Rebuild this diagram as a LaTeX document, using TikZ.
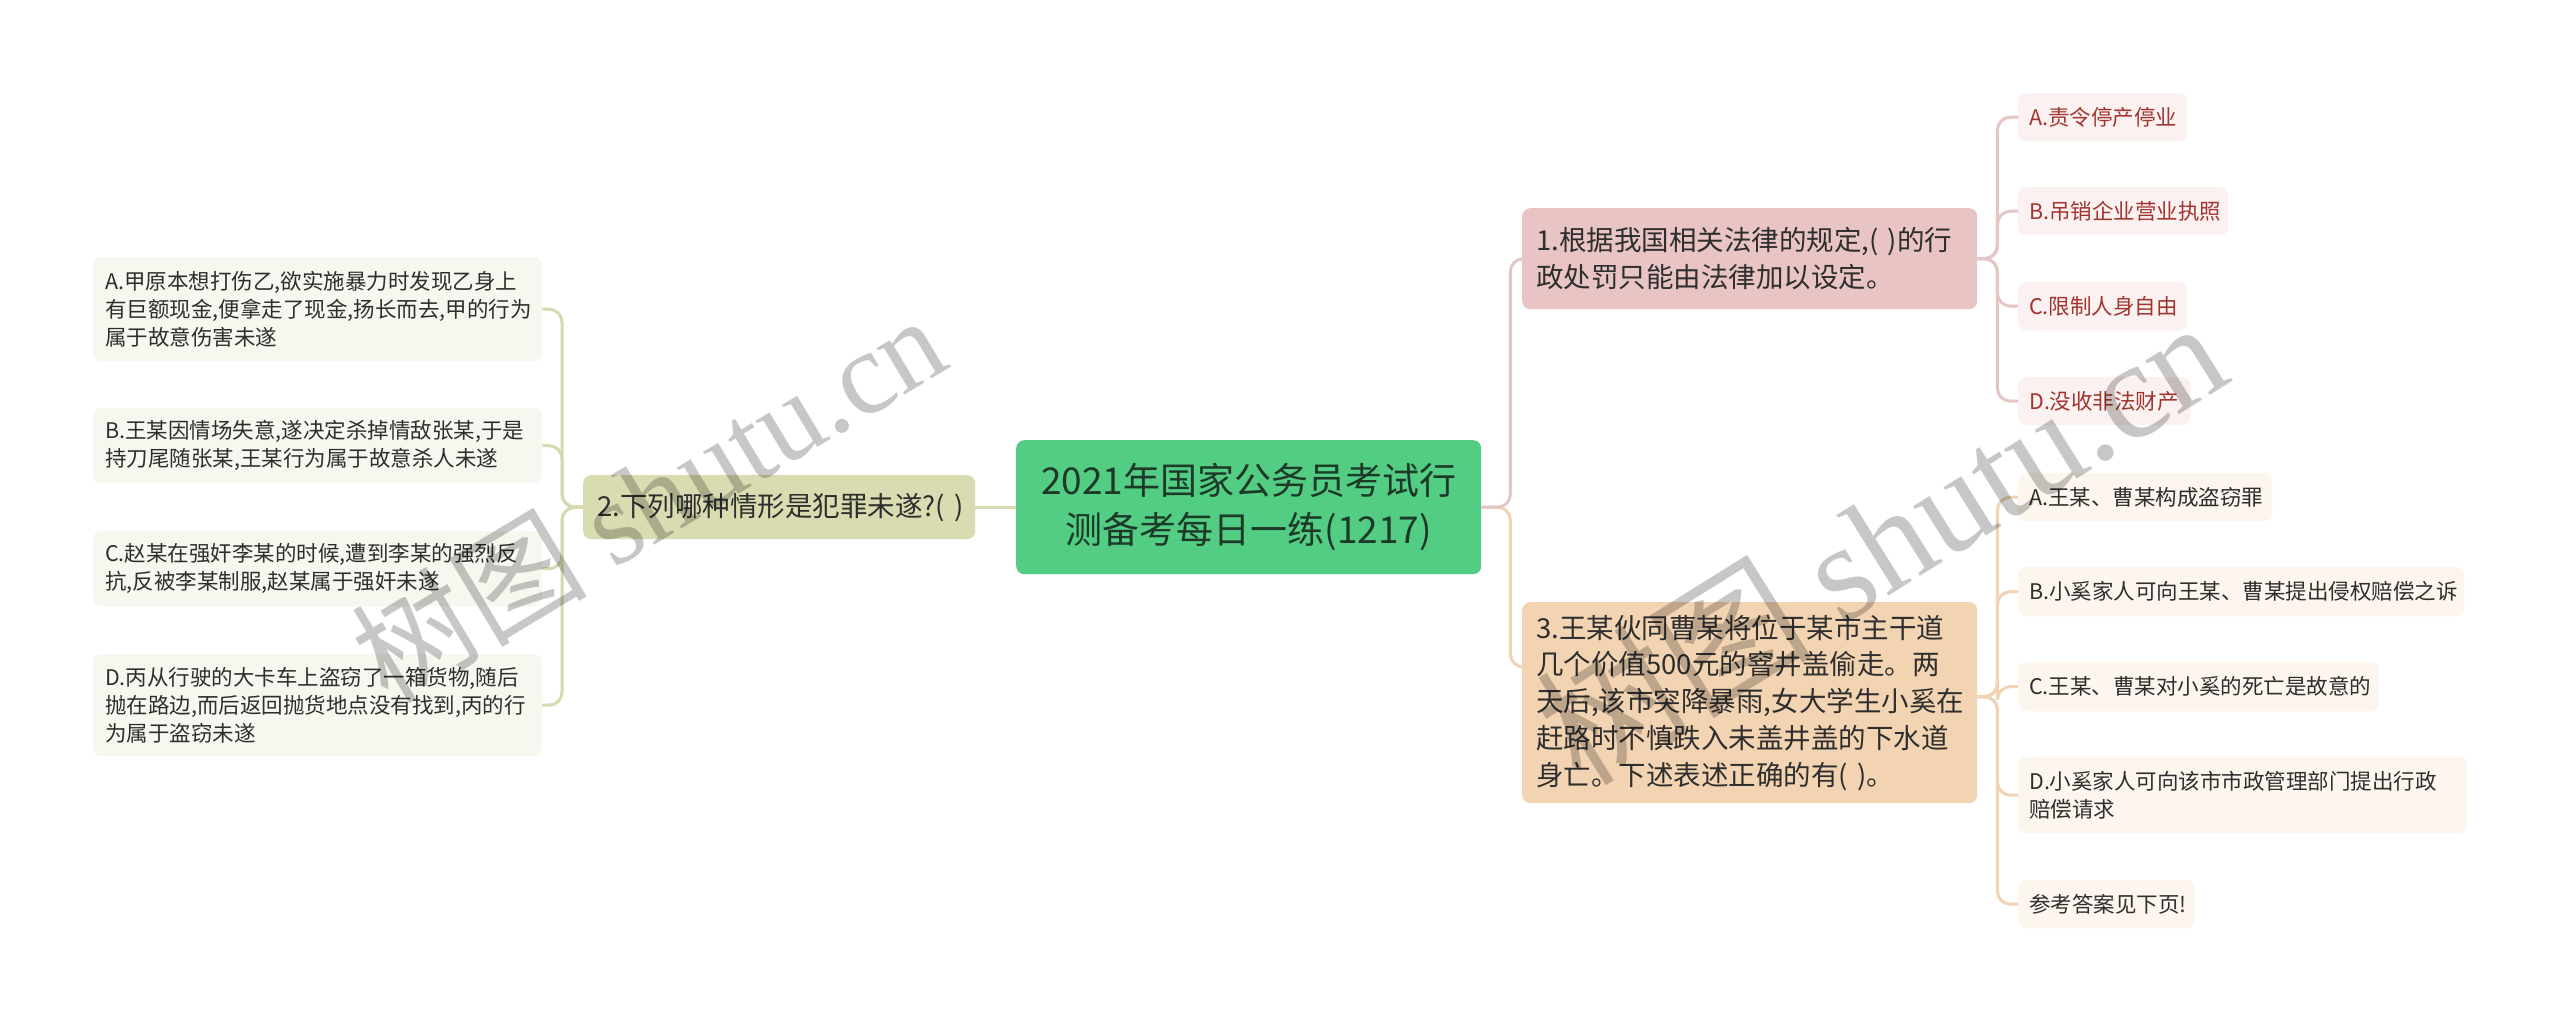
\documentclass[tikz,border=0pt]{standalone}
\usepackage{fontspec}
\setmainfont{Noto Sans CJK SC}
\newfontfamily\wmfont{Liberation Serif}
\definecolor{cfill}{HTML}{53CC84}
\definecolor{ctext}{HTML}{1D3A29}
\definecolor{pfill}{HTML}{E8C4C4}
\definecolor{pchild}{HTML}{FAF1F0}
\definecolor{ptext}{HTML}{A1342E}
\definecolor{pline}{HTML}{E4C6C5}
\definecolor{ofill}{HTML}{F2D4B2}
\definecolor{ochild}{HTML}{FDF6EE}
\definecolor{oline}{HTML}{F0D4B5}
\definecolor{gfill}{HTML}{D9DCB1}
\definecolor{gchild}{HTML}{F6F7EF}
\definecolor{gline}{HTML}{D6DAAE}
\definecolor{dtext}{HTML}{2E2E2E}
\begin{document}
\begin{tikzpicture}[x=1pt,y=-1pt,
  box/.style={draw=none, rounded corners=8pt, anchor=north west, inner ysep=0pt, align=left},
  mainbox/.style={box, fill=cfill, text=ctext, align=center, inner xsep=12pt,
    font=\fontsize{37}{49}\selectfont},
  qbox/.style={box, inner xsep=14pt, text=dtext, font=\fontsize{27.5}{36.7}\selectfont},
  cbox/.style={box, inner xsep=11pt, font=\fontsize{21.5}{28}\selectfont},
  lbox/.style={box, inner xsep=12pt, fill=gchild, text=dtext, font=\fontsize{21.5}{28}\selectfont},
  conn/.style={line width=3pt, rounded corners=13pt},
  wm/.style={text=black, text opacity=0.22}]
\useasboundingbox (0,0) rectangle (2560,1021);
\fill[white] (0,0) rectangle (2560,1021);

% central and main topics
\node[mainbox, minimum width=465, minimum height=134, text width=441] (c) at (1016,440)
  {2021年国家公务员考试行\\测备考每日一练(1217)};
\node[qbox, fill=pfill, minimum width=455, minimum height=101, text width=427] (n1) at (1522,208)
  {1.根据我国相关法律的规定,(~)的行\\政处罚只能由法律加以设定。};
\node[qbox, fill=ofill, minimum width=455, minimum height=201, text width=427] (n3) at (1522,602)
  {3.王某伙同曹某将位于某市主干道\\几个价值500元的窨井盖偷走。两\\天后,该市突降暴雨,女大学生小奚在\\赶路时不慎跌入未盖井盖的下水道\\身亡。下述表述正确的有(~)。};
\node[qbox, fill=gfill, minimum width=392, minimum height=64, text width=364] (n2) at (583,475)
  {2.下列哪种情形是犯罪未遂?(~)};

% children of 1
\node[cbox, fill=pchild, text=ptext, minimum width=169, minimum height=48, text width=147] (r1a) at (2018,93) {A.责令停产停业};
\node[cbox, fill=pchild, text=ptext, minimum width=210, minimum height=48, text width=188] (r1b) at (2018,187) {B.吊销企业营业执照};
\node[cbox, fill=pchild, text=ptext, minimum width=169, minimum height=48, text width=147] (r1c) at (2018,282) {C.限制人身自由};
\node[cbox, fill=pchild, text=ptext, minimum width=172, minimum height=48, text width=150] (r1d) at (2018,377) {D.没收非法财产};

% children of 3
\node[cbox, fill=ochild, text=dtext, minimum width=254, minimum height=48, text width=232] (r3a) at (2018,473) {A.王某、曹某构成盗窃罪};
\node[cbox, fill=ochild, text=dtext, minimum width=446, minimum height=49, text width=424] (r3b) at (2018,567) {B.小奚家人可向王某、曹某提出侵权赔偿之诉};
\node[cbox, fill=ochild, text=dtext, minimum width=361, minimum height=49, text width=339] (r3c) at (2018,662) {C.王某、曹某对小奚的死亡是故意的};
\node[cbox, fill=ochild, text=dtext, minimum width=449, minimum height=76, text width=427] (r3d) at (2018,757) {D.小奚家人可向该市市政管理部门提出行政\\赔偿请求};
\node[cbox, fill=ochild, text=dtext, minimum width=177, minimum height=48, text width=155] (r3e) at (2018,880) {参考答案见下页!};

% children of 2
\node[lbox, minimum width=449, minimum height=104, text width=425] (la) at (93,257)
  {A.甲原本想打伤乙,欲实施暴力时发现乙身上\\有巨额现金,便拿走了现金,扬长而去,甲的行为\\属于故意伤害未遂};
\node[lbox, minimum width=449, minimum height=75, text width=425] (lb) at (93,408)
  {B.王某因情场失意,遂决定杀掉情敌张某,于是\\持刀尾随张某,王某行为属于故意杀人未遂};
\node[lbox, minimum width=449, minimum height=75, text width=425] (lc) at (93,531)
  {C.赵某在强奸李某的时候,遭到李某的强烈反\\抗,反被李某制服,赵某属于强奸未遂};
\node[lbox, minimum width=449, minimum height=102, text width=425] (ld) at (93,654)
  {D.丙从行驶的大卡车上盗窃了一箱货物,随后\\抛在路边,而后返回抛货地点没有找到,丙的行\\为属于盗窃未遂};

% connectors
\coordinate (n3in) at ([yshift=-65pt]n3.north west);
\draw[conn, draw=oline] (c.east) -- ++(29,0) |- (n3in);
\draw[conn, draw=pline] (c.east) -- ++(29,0) |- (n1.west);
\draw[conn, draw=gline] (c.west) -- (n2.east);
\foreach \t in {r1a,r1b,r1c,r1d}
  \draw[conn, draw=pline] (n1.east) -- ++(20,0) |- (\t.west);
\foreach \t in {r3a,r3b,r3c,r3d,r3e}
  \draw[conn, draw=oline] ([yshift=6pt]n3.east) -- ++(20,0) |- (\t.west);
\foreach \t in {la,lb,lc,ld}
  \draw[conn, draw=gline] (n2.west) -- ++(-21,0) |- (\t.east);

% watermarks
\node[wm, rotate=31, font=\fontsize{118}{130}\selectfont] (wm1) at (648,497) {树图 {\wmfont shutu.cn}};
\node[wm, rotate=32, font=\fontsize{138}{150}\selectfont] (wm2) at (1880,540) {树图 {\wmfont shutu.cn}};
\end{tikzpicture}
\end{document}
